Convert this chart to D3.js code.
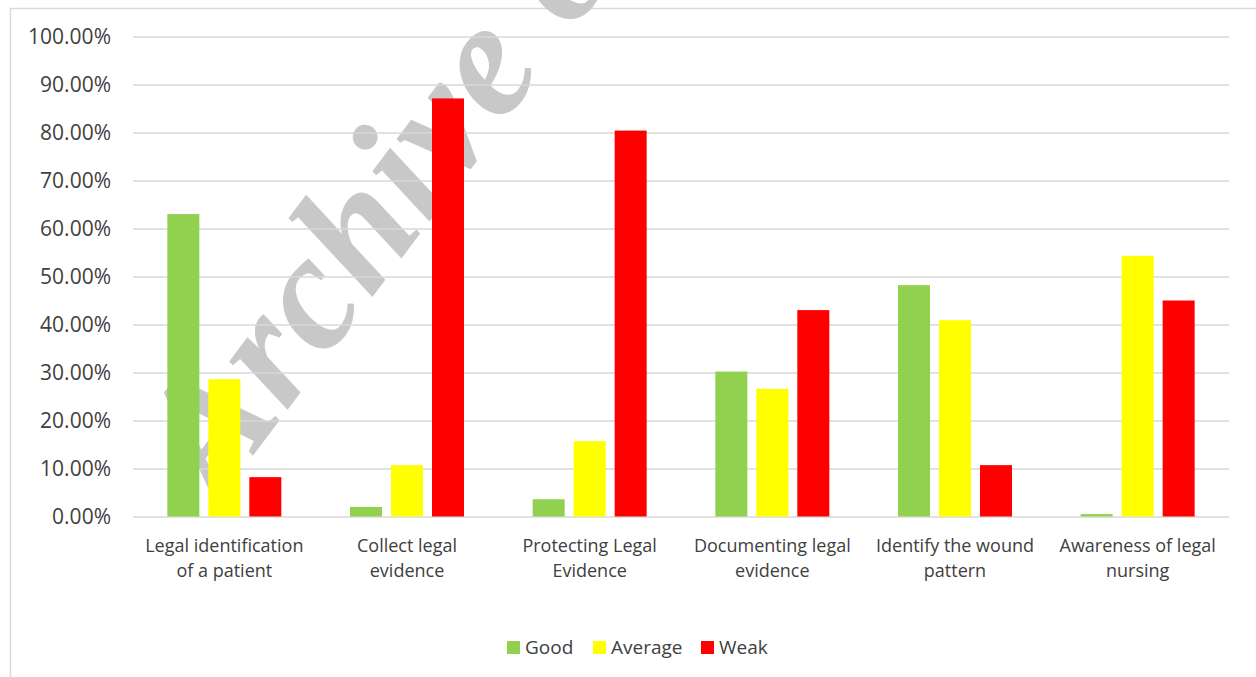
<!DOCTYPE html>
<html>
<head>
<meta charset="utf-8">
<script src="https://cdn.jsdelivr.net/npm/d3@7"></script>
<style>
  body { margin: 0; background: #fff; }
  svg { display: block; }
</style>
</head>
<body>
<div id="chart"></div>
<script>
const categories = [
  'Legal identification of a patient',
  'Collect legal evidence',
  'Protecting Legal Evidence',
  'Documenting legal evidence',
  'Identify the wound pattern',
  'Awareness of legal nursing'
];
const categoryLines = [
  ['Legal identification', 'of a patient'],
  ['Collect legal', 'evidence'],
  ['Protecting Legal', 'Evidence'],
  ['Documenting legal', 'evidence'],
  ['Identify the wound', 'pattern'],
  ['Awareness of legal', 'nursing']
];
const seriesNames = ['Good', 'Average', 'Weak'];
const good = [0.630, 0.020, 0.036, 0.302, 0.482, 0.005];
const average = [0.286, 0.107, 0.157, 0.266, 0.409, 0.543];
const weak = [0.082, 0.871, 0.804, 0.430, 0.107, 0.450];
const yTicks = [0, 0.1, 0.2, 0.3, 0.4, 0.5, 0.6, 0.7, 0.8, 0.9, 1.0];

const colors = ['#92d050', '#ffff00', '#ff0000'];
const textColor = '#404040';
const gridColor = '#d9d9d9';
const fontFamily = '"Open Sans", sans-serif';

const width = 1256;
const height = 677;
const plot = {left: 133, right: 1229, top: 36.5, bottom: 516.5};

const svg = d3.select('#chart')
  .append('svg')
  .attr('width', width)
  .attr('height', height);

// chart area border (cropped at right/bottom)
svg.append('rect')
  .attr('x', 10.5)
  .attr('y', 8.5)
  .attr('width', 1400)
  .attr('height', 900)
  .attr('fill', '#fff')
  .attr('stroke', gridColor)
  .attr('stroke-width', 1.5);

// watermark, sits behind the grid and bars
svg.append('text')
  .attr('transform', 'translate(218, 502) rotate(-53)')
  .style('font-family', '"Liberation Serif", "DejaVu Serif", serif')
  .style('font-weight', 'bold')
  .style('font-style', 'italic')
  .style('font-size', '165px')
  .attr('letter-spacing', 2)
  .attr('fill', '#c8c8c8')
  .text('Archive of SID');

const yScale = d3.scaleLinear()
  .domain([0, 1])
  .range([plot.bottom, plot.top]);

const x0 = d3.scaleBand()
  .domain(categories)
  .range([plot.left, plot.right])
  .paddingInner(0.376)
  .paddingOuter(0.188);

const x1 = d3.scaleBand()
  .domain(seriesNames)
  .range([0, x0.bandwidth()])
  .paddingInner(9 / 41);

const yAxis = svg.append('g')
  .attr('transform', `translate(${plot.left}, 0)`)
  .call(
    d3.axisLeft(yScale)
      .tickValues(yTicks)
      .tickFormat(d3.format('.2%'))
      .tickSize(-(plot.right - plot.left))
      .tickPadding(22)
  );

yAxis.select('.domain').remove();
yAxis.selectAll('line')
  .attr('stroke', gridColor)
  .attr('stroke-width', 1.5);
yAxis.selectAll('text')
  .attr('fill', textColor)
  .style('font-family', fontFamily)
  .style('font-size', '21px');

const values = [good, average, weak];
const barGroups = svg.append('g')
  .selectAll('g')
  .data(categories)
  .join('g')
  .attr('transform', d => `translate(${x0(d)}, 0)`);

barGroups.selectAll('rect')
  .data((d, i) => seriesNames.map((s, j) => ({series: s, value: values[j][i], color: colors[j]})))
  .join('rect')
  .attr('x', d => x1(d.series))
  .attr('y', d => yScale(d.value))
  .attr('width', x1.bandwidth())
  .attr('height', d => yScale(0) - yScale(d.value))
  .attr('fill', d => d.color);

// category labels, two lines each
const labels = svg.append('g')
  .selectAll('text')
  .data(categories)
  .join('text')
  .attr('text-anchor', 'middle')
  .attr('fill', textColor)
  .style('font-family', fontFamily)
  .style('font-size', '18px');

labels.each(function (d, i) {
  const cx = x0(d) + x0.bandwidth() / 2;
  d3.select(this).selectAll('tspan')
    .data(categoryLines[i])
    .join('tspan')
    .attr('x', cx)
    .attr('y', (line, k) => 551.5 + k * 25.5)
    .text(line => line);
});

// legend
const legendItems = [
  {name: 'Good', x: 507},
  {name: 'Average', x: 593},
  {name: 'Weak', x: 701}
];
const legend = svg.append('g')
  .selectAll('g')
  .data(legendItems)
  .join('g')
  .attr('transform', d => `translate(${d.x}, 641)`);

legend.append('rect')
  .attr('width', 13)
  .attr('height', 13)
  .attr('fill', (d, i) => colors[i]);

legend.append('text')
  .attr('x', 18)
  .attr('y', 6.5)
  .attr('dy', '0.35em')
  .attr('fill', textColor)
  .style('font-family', fontFamily)
  .style('font-size', '19px')
  .text(d => d.name);
</script>
</body>
</html>
